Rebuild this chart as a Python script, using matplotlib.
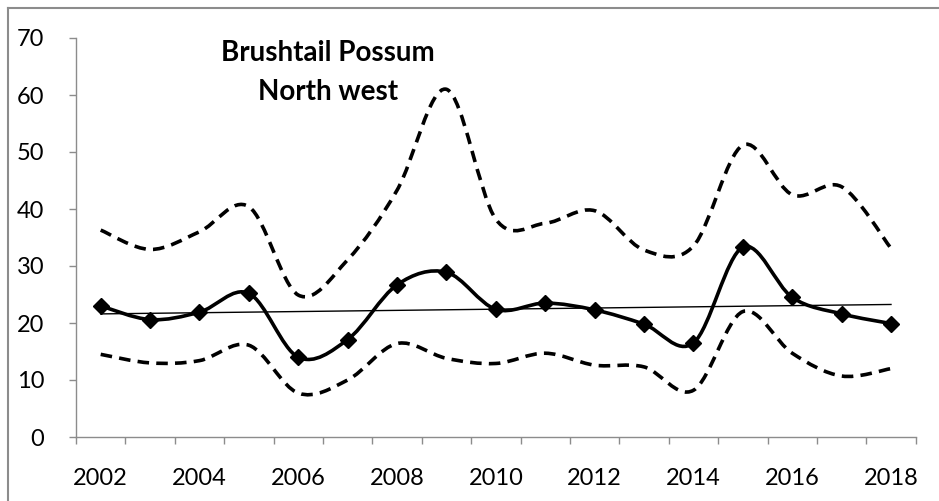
import numpy as np
import matplotlib
matplotlib.use('Agg')
import matplotlib.pyplot as plt
from matplotlib.path import Path
from matplotlib.patches import PathPatch
from matplotlib.lines import Line2D

# annual index, Brushtail Possum, North west
years = list(range(2002, 2019))
mean_vals = [23.0, 20.6, 21.9, 25.2, 14.0, 17.1, 26.7, 28.9, 22.4, 23.5,
             22.3, 19.8, 16.5, 33.3, 24.5, 21.6, 19.9]
upper_vals = [36.3, 32.9, 36.0, 40.4, 24.9, 31.1, 43.3, 61.0, 38.2, 37.5,
              39.7, 32.8, 33.5, 51.2, 42.5, 43.9, 33.1]
lower_vals = [14.5, 13.0, 13.4, 16.1, 7.7, 10.0, 16.4, 13.8, 12.9, 14.7,
              12.6, 12.3, 8.2, 22.0, 14.7, 10.7, 12.0]
label_years = ['2002', '2004', '2006', '2008', '2010', '2012', '2014', '2016', '2018']
title_lines = ['Brushtail Possum', 'North west']


def smooth_path(x, y):
    # excel style smoothed line, cubic bezier segments (catmull-rom)
    pts = np.column_stack([x, y]).astype(float)
    n = len(pts)
    verts = [pts[0]]
    codes = [Path.MOVETO]
    for i in range(n - 1):
        p0 = pts[i - 1] if i > 0 else pts[i]
        p1 = pts[i]
        p2 = pts[i + 1]
        p3 = pts[i + 2] if i + 2 < n else pts[i + 1]
        c1 = p1 + (p2 - p0) / 6.0
        c2 = p2 - (p3 - p1) / 6.0
        verts += [c1, c2, p2]
        codes += [Path.CURVE4] * 3
    return Path(verts, codes)


fig = plt.figure(figsize=(9.39, 5.01), dpi=100)
ax = fig.add_axes([76 / 939, 64 / 501, 839.7 / 939, 399 / 501])

x = np.array(years, dtype=float)
for vals in (upper_vals, lower_vals):
    ax.add_patch(PathPatch(smooth_path(x, vals), fill=False, ec='black',
                           lw=2.6, ls=(0, (3.2, 2.0)), capstyle='butt'))
ax.add_patch(PathPatch(smooth_path(x, mean_vals), fill=False, ec='black', lw=2.6))
ax.plot(x, mean_vals, ls='none', marker='D', ms=8, color='black')

# linear trend
coef = np.polyfit(x, mean_vals, 1)
ax.plot(x, np.polyval(coef, x), color='black', lw=1.0)

ax.set_xlim(2001.5, 2018.5)
ax.set_ylim(0, 70)
ax.set_xticks(np.arange(2001.5, 2019, 1.0))
ax.set_xticklabels([])
ax.set_xticks([int(s) for s in label_years], minor=True)
ax.set_xticklabels(label_years, minor=True)
ax.set_yticks(range(0, 71, 10))

for s in ('top', 'right'):
    ax.spines[s].set_visible(False)
for s in ('left', 'bottom'):
    ax.spines[s].set_color('#8c8c8c')
    ax.spines[s].set_linewidth(1.0)

ax.tick_params(axis='x', which='major', direction='out', length=5, color='#8c8c8c', width=1)
ax.tick_params(axis='x', which='minor', length=0, pad=22, labelsize=17)
ax.tick_params(axis='y', direction='out', length=5, color='#8c8c8c', width=1,
               pad=18, labelsize=17)
for lab in ax.get_xticklabels(minor=True) + ax.get_yticklabels():
    lab.set_fontfamily('Lato')

ax.text(2006.6, 66.0, title_lines[0], ha='center', va='baseline',
        fontsize=20, fontweight='bold', fontfamily='Lato')
ax.text(2006.6, 59.1, title_lines[1], ha='center', va='baseline',
        fontsize=20, fontweight='bold', fontfamily='Lato')

# chart area border (top and left only visible)
fig.add_artist(Line2D([7.5 / 939, 1], [1 - 7.5 / 501, 1 - 7.5 / 501],
                      transform=fig.transFigure, color='#8c8c8c', lw=1.5))
fig.add_artist(Line2D([7.5 / 939, 7.5 / 939], [0, 1 - 7.5 / 501],
                      transform=fig.transFigure, color='#8c8c8c', lw=1.5))

fig.savefig('out.png', dpi=100)
